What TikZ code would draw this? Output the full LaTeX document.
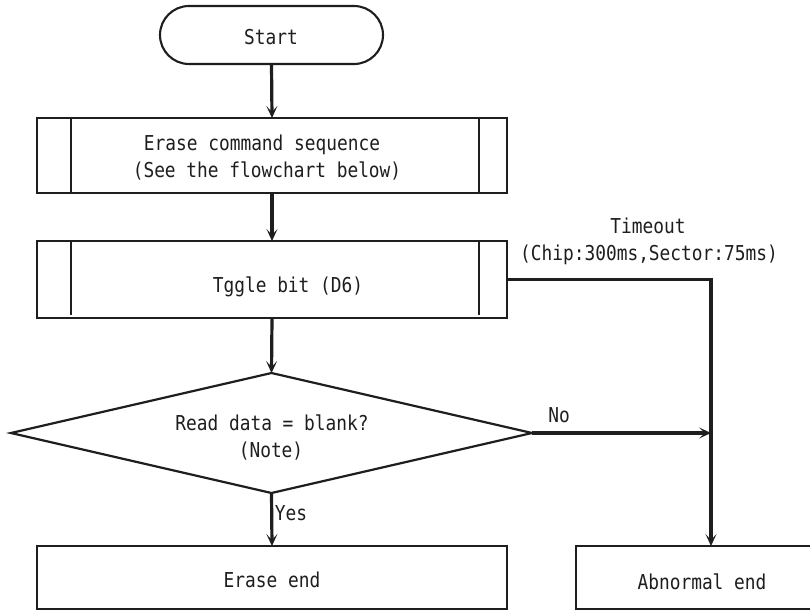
\documentclass[tikz,border=0pt]{standalone}
\usepackage{fontspec}
\setmainfont[FakeStretch=0.87]{DejaVu Sans Mono}
\usetikzlibrary{shapes.geometric,arrows.meta}
\definecolor{ink}{HTML}{1E1E1E}
\begin{document}
\begin{tikzpicture}[x=1pt,y=-1pt,
  box/.style={draw=ink,line width=2.1pt,rectangle,inner sep=0pt,outer sep=0pt},
  txt/.style={inner sep=0pt,outer sep=0pt,text=ink,font=\fontsize{20.5}{24}\selectfont,text height=14.5pt,text depth=0pt},
  conn/.style={line width=3.2pt,draw=ink},
  arr/.style={conn,-{Stealth[length=12pt,width=11pt,inset=6pt]}}]
\useasboundingbox (0,0) rectangle (810,610);
\fill[white] (0,0) rectangle (810,610);
\clip (0,0) rectangle (810,610);
% boxes
\node[box,rounded corners=29pt,minimum width=223pt,minimum height=58pt] (start) at (271.5,35) {};
\node[box,minimum width=470pt,minimum height=75pt] (erase) at (272,155.5) {};
\node[box,minimum width=470pt,minimum height=77pt] (toggle) at (272,279.5) {};
\node[draw=ink,line width=2.2pt,diamond,inner sep=0pt,outer sep=0pt,minimum width=521pt,minimum height=120pt] (dec) at (271.5,433) {};
\node[box,minimum width=470pt,minimum height=63pt] (eend) at (272,577.5) {};
\node[box,minimum width=270pt,minimum height=63pt] (abend) at (711,577.5) {};
% inner lines of predefined-process boxes
\draw[ink,line width=2.4pt] ([xshift=34pt]erase.north west) -- ([xshift=34pt]erase.south west);
\draw[ink,line width=2.4pt] ([xshift=-28pt]erase.north east) -- ([xshift=-28pt]erase.south east);
\draw[ink,line width=2.4pt] ([xshift=34pt]toggle.north west) -- ([xshift=34pt,yshift=3pt]toggle.south west);
\draw[ink,line width=2.4pt] ([xshift=-28pt]toggle.north east) -- ([xshift=-28pt,yshift=3pt]toggle.south east);
% texts
\node[txt] (tstart) at (271,37) {Start};
\node[txt] (terase1) at (262,143) {Erase command sequence};
\node[txt] (terase2) at (267,170) {(See the flowchart below)};
\node[txt] (ttoggle) at (288,285) {Tggle bit (D6)};
\node[txt] (ttime1) at (648,226) {Timeout};
\node[txt] (ttime2) at (649,253) {(Chip:300ms,Sector:75ms)};
\node[txt] (tdec1) at (272,423) {Read data = blank?};
\node[txt] (tdec2) at (271,450) {(Note)};
\node[txt] (tno) at (559,415) {No};
\node[txt] (tyes) at (291,513) {Yes};
\node[txt] (teend) at (272,580) {Erase end};
\node[txt] (tabend) at (702,582) {Abnormal end};
% connectors
\draw[arr] (start.south) -- (erase.north);
\draw[arr] (erase.south) -- (toggle.north);
\draw[arr] (toggle.south) -- (dec.north);
\draw[arr] (dec.south) -- (eend.north);
\draw[arr] (toggle.east) -| (abend.north);
\draw[arr] (dec.east) -- (dec.east -| abend.north);
\end{tikzpicture}
\end{document}
